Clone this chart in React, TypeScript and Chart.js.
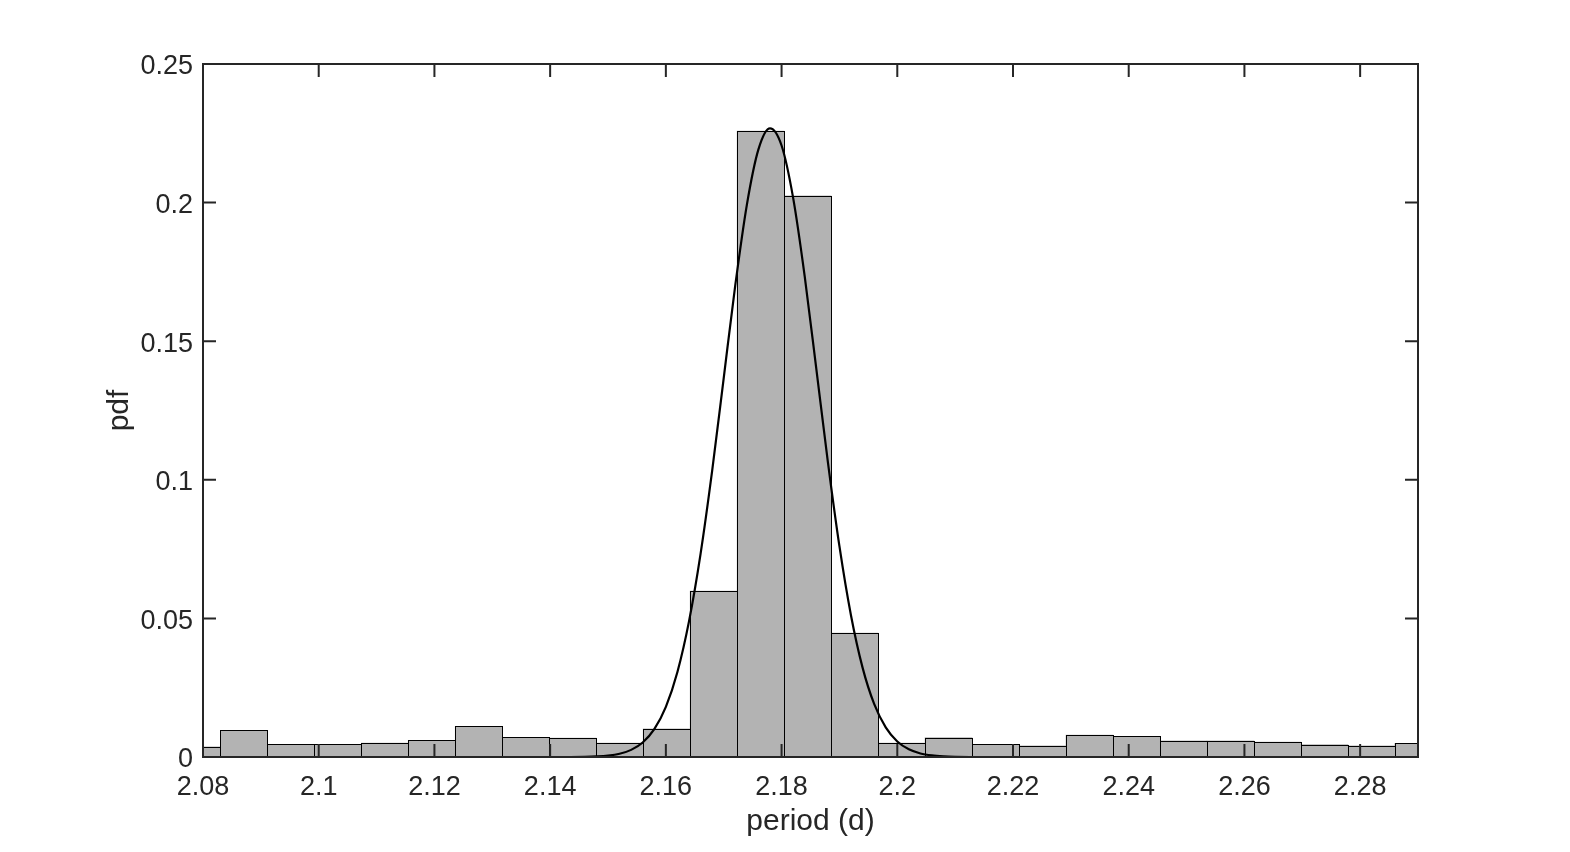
import React, { useEffect, useRef } from "react";
import { Chart, registerables } from "chart.js";

Chart.register(...registerables);

// Histogram bins (centres) and heights
const binCenters = [
  2.07894, 2.08706, 2.09518, 2.1033, 2.11142, 2.11954, 2.12766, 2.13578, 2.1439,
  2.15202, 2.16014, 2.16826, 2.17638, 2.1845, 2.19262, 2.20074, 2.20886, 2.21698,
  2.2251, 2.23322, 2.24134, 2.24946, 2.25758, 2.2657, 2.27382, 2.28194, 2.29006,
];
const binHeights = [
  0.0037, 0.0096, 0.0046, 0.0046, 0.005, 0.006, 0.0111, 0.0071, 0.0068,
  0.005, 0.0102, 0.0599, 0.2258, 0.2024, 0.0447, 0.005, 0.007, 0.0046,
  0.004, 0.0079, 0.0075, 0.0058, 0.0058, 0.0054, 0.0045, 0.004, 0.0049,
];

// Fitted curve
const curveX = [
  2.08, 2.12, 2.14, 2.146, 2.148, 2.15, 2.152, 2.154, 2.156, 2.158, 2.16, 2.162,
  2.164, 2.166, 2.168, 2.17, 2.172, 2.174, 2.176, 2.178, 2.18, 2.182, 2.184,
  2.186, 2.188, 2.19, 2.192, 2.194, 2.196, 2.198, 2.2, 2.202, 2.204, 2.206,
  2.208, 2.21, 2.216, 2.29,
];
const curveY = [
  0, 0, 0, 0.00008, 0.00021, 0.00051, 0.00118, 0.00257, 0.00523, 0.01005, 0.01811,
  0.03069, 0.04892, 0.07328, 0.1032, 0.1367, 0.1702, 0.1992, 0.2192, 0.2268,
  0.2206, 0.2017, 0.1734, 0.1401, 0.1065, 0.07605, 0.05107, 0.03225, 0.01914,
  0.01068, 0.0056, 0.00277, 0.00128, 0.00056, 0.00023, 0.00009, 0, 0,
];

const xTickValues = [2.08, 2.1, 2.12, 2.14, 2.16, 2.18, 2.2, 2.22, 2.24, 2.26, 2.28];
const xTickLabels = ["2.08", "2.1", "2.12", "2.14", "2.16", "2.18", "2.2", "2.22", "2.24", "2.26", "2.28"];
const yTickValues = [0, 0.05, 0.1, 0.15, 0.2, 0.25];
const yTickLabels = ["0", "0.05", "0.1", "0.15", "0.2", "0.25"];
const xLabel = "period (d)";
const yLabel = "pdf";

const AXIS_COLOR = "#262626";
const FONT = '"Liberation Sans", Arial, Helvetica, sans-serif';

const histOutline = {
  id: "histOutline",
  afterDatasetDraw(chart: any, args: any) {
    if (args.index !== 0) return;
    const { ctx, chartArea } = chart;
    ctx.save();
    ctx.beginPath();
    ctx.rect(chartArea.left, chartArea.top, chartArea.right - chartArea.left, chartArea.bottom - chartArea.top);
    ctx.clip();
    ctx.strokeStyle = "#000000";
    ctx.lineWidth = 1;
    args.meta.data.forEach((el: any) => {
      const { x, y, base, width } = el.getProps(["x", "y", "base", "width"], true);
      const l = Math.round(x - width / 2) + 0.5;
      const r = Math.round(x + width / 2) + 0.5;
      const t = Math.round(y) + 0.5;
      const b = Math.round(base) + 0.5;
      ctx.strokeRect(l, t, r - l, b - t);
    });
    ctx.restore();
  },
};

const frame = {
  id: "frame",
  afterDraw(chart: any) {
    const { ctx, chartArea, scales } = chart;
    const { left, right, top, bottom } = chartArea;
    const tl = 13;
    ctx.save();
    ctx.strokeStyle = AXIS_COLOR;
    ctx.lineWidth = 2;
    ctx.beginPath();
    scales.x.ticks.forEach((t: any) => {
      const px = scales.x.getPixelForValue(t.value);
      ctx.moveTo(px, bottom);
      ctx.lineTo(px, bottom - tl);
      ctx.moveTo(px, top);
      ctx.lineTo(px, top + tl);
    });
    scales.y.ticks.forEach((t: any) => {
      const py = scales.y.getPixelForValue(t.value);
      ctx.moveTo(left, py);
      ctx.lineTo(left + tl, py);
      ctx.moveTo(right, py);
      ctx.lineTo(right - tl, py);
    });
    ctx.stroke();
    ctx.strokeRect(left, top, right - left, bottom - top);
    ctx.restore();
  },
};

export default function App() {
  const ref = useRef<HTMLCanvasElement | null>(null);

  useEffect(() => {
    if (!ref.current) return;
    const chart = new Chart(ref.current, {
      type: "bar",
      data: {
        datasets: [
          {
            type: "bar",
            data: binCenters.map((c, i) => ({ x: c, y: binHeights[i] })),
            backgroundColor: "#b3b3b3",
            borderWidth: 0,
            barPercentage: 1,
            categoryPercentage: 1,
            grouped: false,
            order: 2,
          } as any,
          {
            type: "line",
            data: curveX.map((c, i) => ({ x: c, y: curveY[i] })),
            borderColor: "#000000",
            borderWidth: 2.2,
            pointRadius: 0,
            fill: false,
            cubicInterpolationMode: "monotone",
            order: 1,
          } as any,
        ],
      },
      options: {
        responsive: false,
        animation: false,
        devicePixelRatio: 1,
        layout: { padding: { left: 0, top: 64, right: 152, bottom: 0 } },
        plugins: { legend: { display: false }, tooltip: { enabled: false } },
        scales: {
          x: {
            type: "linear",
            min: 2.08,
            max: 2.29,
            offset: false,
            grid: { display: false, drawTicks: false, offset: false },
            border: { display: false },
            afterBuildTicks: (s: any) => {
              s.ticks = xTickValues.map((v) => ({ value: v }));
            },
            afterFit: (s: any) => {
              s.height = 95;
            },
            ticks: {
              autoSkip: false,
              maxRotation: 0,
              padding: 14,
              color: AXIS_COLOR,
              font: { family: FONT, size: 27 },
              callback: (_v: any, i: number) => xTickLabels[i],
            },
            title: {
              display: true,
              text: xLabel,
              color: AXIS_COLOR,
              font: { family: FONT, size: 30 },
              padding: { top: 0, bottom: 12 },
            },
          },
          y: {
            type: "linear",
            min: 0,
            max: 0.25,
            grid: { display: false, drawTicks: false },
            border: { display: false },
            afterBuildTicks: (s: any) => {
              s.ticks = yTickValues.map((v) => ({ value: v }));
            },
            afterFit: (s: any) => {
              s.width = 203;
            },
            ticks: {
              autoSkip: false,
              padding: 10,
              labelOffset: 3,
              color: AXIS_COLOR,
              font: { family: FONT, size: 27 },
              callback: (_v: any, i: number) => yTickLabels[i],
            },
            title: {
              display: true,
              text: yLabel,
              color: AXIS_COLOR,
              font: { family: FONT, size: 30 },
              padding: { top: 102, bottom: 0 },
            },
          },
        },
      },
      plugins: [histOutline, frame],
    });
    return () => chart.destroy();
  }, []);

  return (
    <div style={{ position: "absolute", left: 0, top: 0, width: 1570, height: 852, background: "#ffffff" }}>
      <canvas ref={ref} width={1570} height={852} style={{ display: "block" }} />
    </div>
  );
}
